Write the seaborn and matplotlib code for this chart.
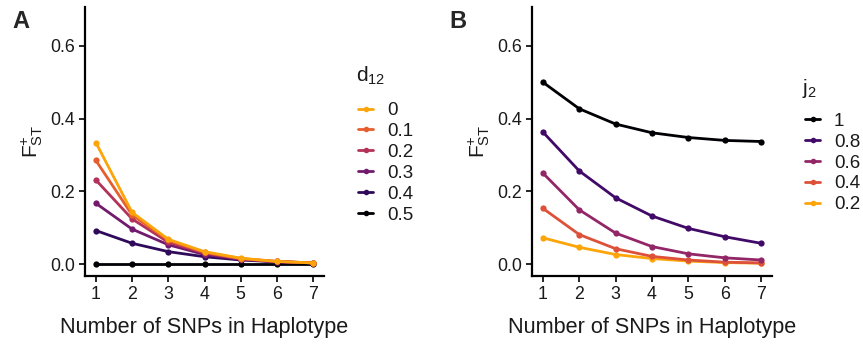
import numpy as np
import pandas as pd
import matplotlib
matplotlib.use("Agg")
import matplotlib.pyplot as plt
import seaborn as sns

sns.set_theme(style="ticks")
plt.rcParams['font.family'] = ['Liberation Sans', 'DejaVu Sans']
plt.rcParams['mathtext.fontset'] = 'custom'
plt.rcParams['mathtext.rm'] = 'Liberation Sans'
plt.rcParams['mathtext.it'] = 'Liberation Sans'

snps = [1, 2, 3, 4, 5, 6, 7]

# Panel A: d12 levels
d12_levels = ["0", "0.1", "0.2", "0.3", "0.4", "0.5"]
fst_d0 = [0.334, 0.142, 0.068, 0.034, 0.016, 0.007, 0.003]
fst_d01 = [0.285, 0.135, 0.065, 0.032, 0.015, 0.007, 0.003]
fst_d02 = [0.231, 0.124, 0.060, 0.030, 0.014, 0.007, 0.003]
fst_d03 = [0.167, 0.096, 0.053, 0.026, 0.013, 0.006, 0.003]
fst_d04 = [0.092, 0.057, 0.034, 0.020, 0.011, 0.006, 0.003]
fst_d05 = [0.0, 0.0, 0.0, 0.0, 0.0, 0.0, 0.0]

# Panel B: j2 levels
j2_levels = ["1", "0.8", "0.6", "0.4", "0.2"]
fst_j1 = [0.500, 0.427, 0.385, 0.361, 0.348, 0.340, 0.337]
fst_j08 = [0.363, 0.256, 0.182, 0.132, 0.098, 0.075, 0.057]
fst_j06 = [0.250, 0.149, 0.085, 0.048, 0.028, 0.017, 0.011]
fst_j04 = [0.153, 0.081, 0.042, 0.021, 0.011, 0.005, 0.003]
fst_j02 = [0.072, 0.046, 0.026, 0.015, 0.008, 0.004, 0.002]

dfA = pd.DataFrame({
    "snps": snps * 6,
    "fst": fst_d0 + fst_d01 + fst_d02 + fst_d03 + fst_d04 + fst_d05,
    "d12": sum([[lv] * 7 for lv in d12_levels], []),
})
dfB = pd.DataFrame({
    "snps": snps * 5,
    "fst": fst_j1 + fst_j08 + fst_j06 + fst_j04 + fst_j02,
    "j2": sum([[lv] * 7 for lv in j2_levels], []),
})

cmap = plt.cm.inferno
colsA = cmap(np.linspace(0.8, 0.0, 6))
palA = {lv: colsA[i] for i, lv in enumerate(d12_levels)}
colsB = cmap(np.linspace(0.0, 0.8, 5))
palB = {lv: colsB[i] for i, lv in enumerate(j2_levels)}

W, H = 863, 345
fig = plt.figure(figsize=(W / 100, H / 100), dpi=100)
axA = fig.add_axes([85 / W, 1 - 276 / H, (324 - 85) / W, (276 - 7) / H])
axB = fig.add_axes([532 / W, 1 - 276 / H, (772 - 532) / W, (276 - 7) / H])

TXT = "#1a1a1a"

def style(ax):
    ax.set_xlim(0.7, 7.3)
    ax.set_ylim(-0.033, 0.707)
    ax.set_xticks(snps)
    ax.set_yticks([0.0, 0.2, 0.4, 0.6])
    ax.set_yticklabels(["0.0", "0.2", "0.4", "0.6"])
    for s in ["top", "right"]:
        ax.spines[s].set_visible(False)
    for s in ["left", "bottom"]:
        ax.spines[s].set_linewidth(1.6)
        ax.spines[s].set_color("black")
    ax.tick_params(axis="both", labelsize=12.8, length=4, width=1.2, color="black",
                   labelcolor=TXT, pad=3)
    ax.set_xlabel("Number of SNPs in Haplotype", fontsize=15.6, color=TXT, labelpad=10)
    ax.set_ylabel(r"$\mathrm{F_{ST}^{+}}$", fontsize=15, color=TXT, labelpad=4)

sns.lineplot(data=dfA, x="snps", y="fst", hue="d12", hue_order=d12_levels[::-1],
             palette=palA, marker="o", markersize=4.5, markeredgewidth=0,
             linewidth=2, ax=axA)
sns.lineplot(data=dfB, x="snps", y="fst", hue="j2", hue_order=j2_levels[::-1],
             palette=palB, marker="o", markersize=4.5, markeredgewidth=0,
             linewidth=2, ax=axB)
style(axA)
style(axB)

def make_legend(ax, levels, pal, title, x, y_first, title_x, title_y):
    handles = [plt.Line2D([], [], color=pal[lv], lw=2, marker="o", markersize=4,
                          markeredgewidth=0) for lv in levels]
    fs = 13.5
    leg = ax.legend(handles, levels, frameon=False, loc="center left",
                    bbox_to_anchor=(x / W, 1 - y_first / H), bbox_transform=fig.transFigure,
                    fontsize=fs, handlelength=0.8, handletextpad=0.75,
                    labelspacing=0.2, borderaxespad=0, borderpad=0)
    # shift so first entry sits at y_first: compute later via anchor on top entry
    for t in leg.get_texts():
        t.set_color(TXT)
    fig.text(title_x / W, 1 - title_y / H, title, fontsize=15, color=TXT,
             ha="left", va="center")
    return leg

n_A = len(d12_levels)
n_B = len(j2_levels)
sp = 21.5
# legend centred on middle of its entries
make_legend(axA, d12_levels, palA, r"d$_{12}$", 358, 109 + sp * (n_A - 1) / 2, 356, 76)
make_legend(axB, j2_levels, palB, r"j$_{2}$", 805, 120 + sp * (n_B - 1) / 2, 802, 88)

fig.text(12 / W, 1 - 22 / H, "A", fontsize=17, fontweight="bold", va="center", ha="left")
fig.text(449 / W, 1 - 22 / H, "B", fontsize=17, fontweight="bold", va="center", ha="left")

fig.savefig("out.png", dpi=100)
